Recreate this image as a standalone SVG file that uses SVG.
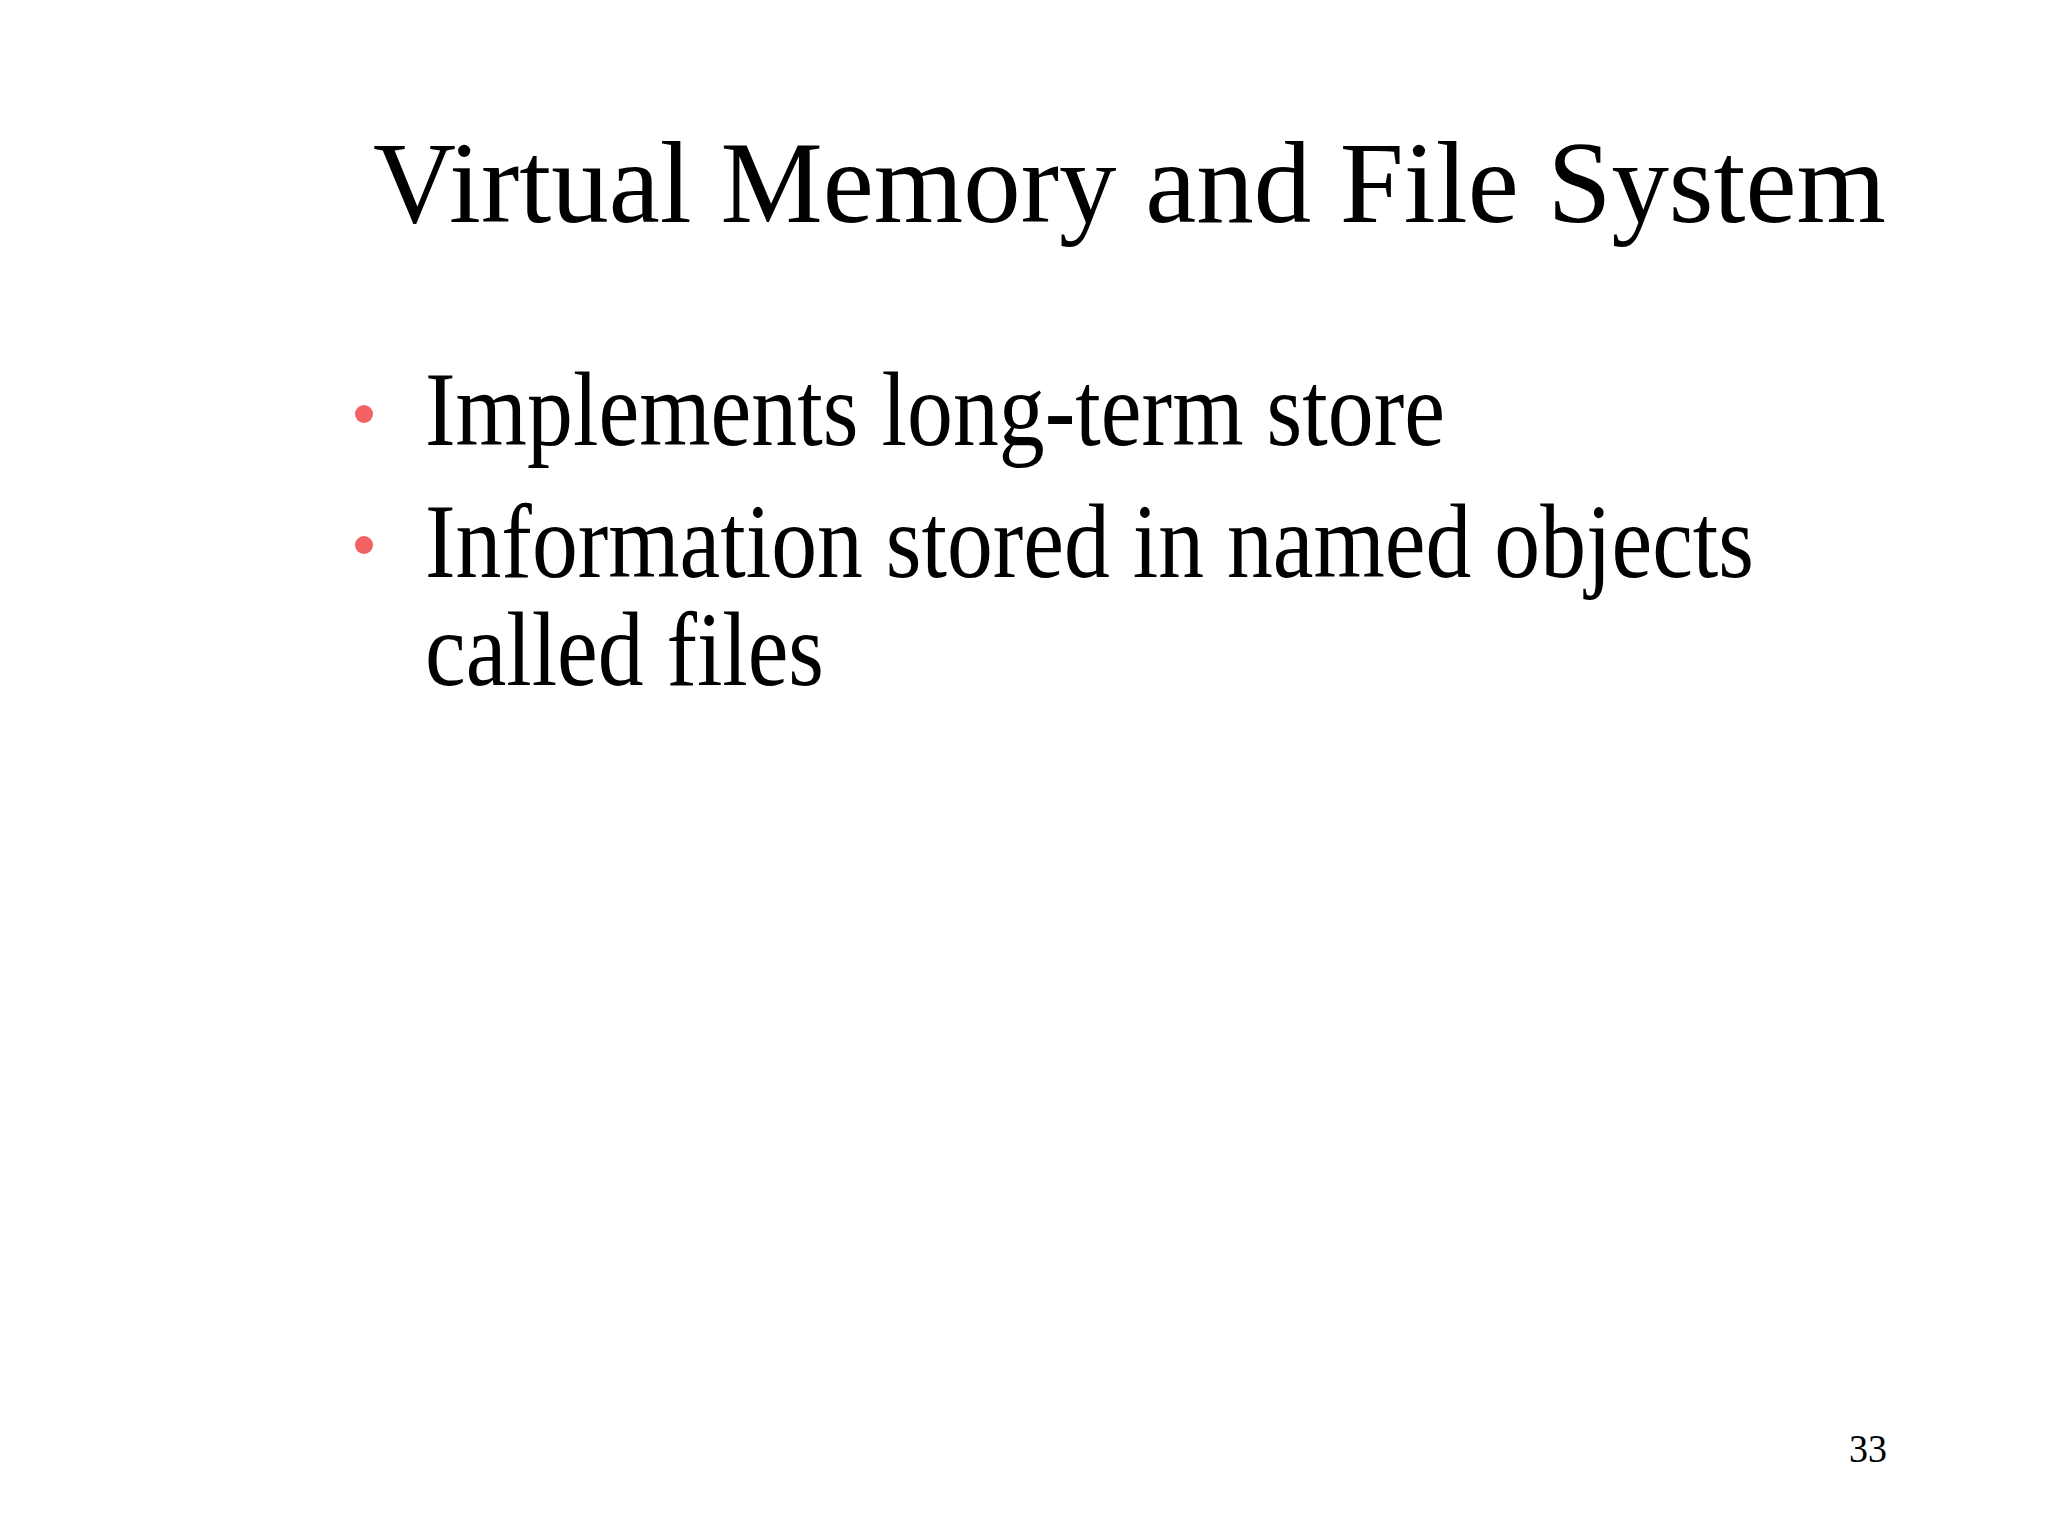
<svg xmlns="http://www.w3.org/2000/svg" width="2048" height="1536" viewBox="0 0 2048 1536">
<style>
text{font-family:"Liberation Serif","Times New Roman",serif;fill:#000}
.b{font-size:105px}
.dot{fill:#f26262}
</style>
<rect width="2048" height="1536" fill="#fff"/>
<g id="title"><text x="373" y="222" font-size="117" textLength="1513" lengthAdjust="spacingAndGlyphs">Virtual Memory and File System</text></g>
<g id="bullet1"><circle class="dot" cx="364" cy="414" r="9"/><text class="b" x="425" y="445" textLength="1020" lengthAdjust="spacingAndGlyphs">Implements long-term store</text></g>
<g id="bullet2"><circle class="dot" cx="364" cy="545" r="9"/><text class="b" x="425" y="577" textLength="1329" lengthAdjust="spacingAndGlyphs">Information stored in named objects</text><text class="b" x="425" y="685" textLength="399" lengthAdjust="spacingAndGlyphs">called files</text></g>
<g id="page"><text x="1849" y="1462" font-size="40" textLength="38" lengthAdjust="spacingAndGlyphs">33</text></g>
<g id="connectors"/>
</svg>
